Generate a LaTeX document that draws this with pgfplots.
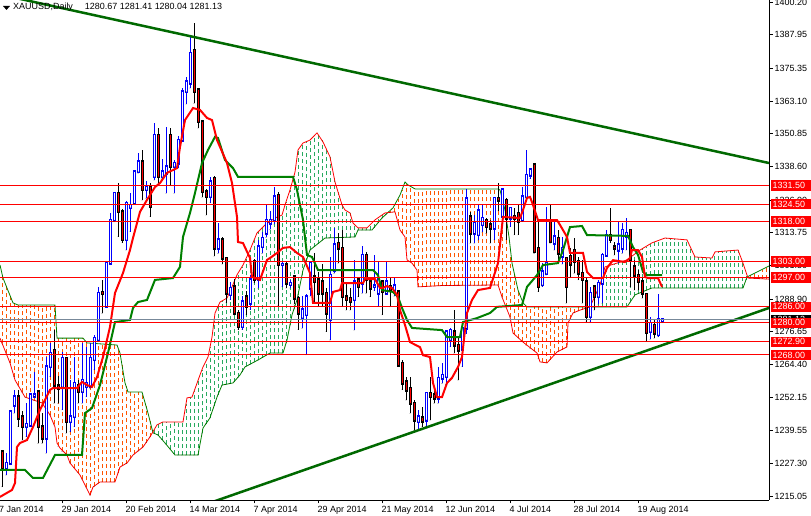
\documentclass[border=0pt]{standalone}
\usepackage{pgfplots}
\pgfplotsset{compat=1.18}
\usepackage{pgfplotstable}
\usepackage{fontspec}
\setmainfont{Liberation Sans}
\definecolor{cloudO}{RGB}{255,85,0}
\definecolor{cloudG}{RGB}{40,170,95}
\definecolor{kij}{RGB}{0,128,0}
\definecolor{trend}{RGB}{0,105,0}
\definecolor{bidgray}{RGB}{119,136,153}
\setlength{\fboxsep}{2bp}
\newcommand{\lab}[2][red]{\colorbox{#1}{\makebox[36bp][l]{\textcolor{white}{#2}}}}
\pgfplotsset{
  candle/.style={only marks, mark=*, mark size=0.01pt, mark options={draw=none, fill=none},
    error bars/.cd, y dir=plus, y explicit, error mark=none, error bar style={#1}},
}

% Ichimoku cloud per bar: orange where span B is above span A, green where A is above B
\pgfplotstableread{
i lo hi
1 1272.4 1298.4
2 1268.7 1294.0
3 1265.0 1290.3
4 1259.9 1287.3
5 1256.7 1286.7
6 1254.1 1286.7
7 1252.1 1286.7
8 1251.6 1286.7
9 1251.0 1286.7
10 1250.5 1286.7
11 1250.0 1286.7
12 1247.8 1286.7
13 1245.5 1286.7
14 1242.0 1286.7
15 1233.7 1274.3
16 1231.9 1274.3
17 1230.9 1274.3
18 1227.5 1274.3
19 1225.7 1274.3
20 1223.9 1274.3
21 1221.5 1274.3
22 1218.5 1273.0
23 1215.5 1272.4
24 1218.8 1272.3
25 1219.9 1272.2
26 1220.4 1272.1
27 1220.4 1272.0
28 1220.4 1271.9
29 1220.4 1271.8
30 1223.8 1270.7
31 1226.4 1264.2
32 1227.3 1256.4
33 1229.0 1254.1
34 1230.8 1254.1
35 1232.0 1254.1
36 1233.2 1254.1
37 1235.1 1248.8
38 1237.3 1243.2
98 1321.4 1322.1
99 1321.6 1323.8
100 1317.5 1326.5
101 1313.8 1329.9
102 1307.9 1332.1
103 1302.9 1331.3
104 1301.4 1330.4
105 1293.5 1330.2
106 1293.6 1330.2
107 1293.7 1330.2
108 1293.8 1330.2
109 1293.8 1330.2
110 1293.9 1330.2
111 1294.0 1330.2
112 1294.0 1330.2
113 1294.1 1330.2
114 1294.1 1330.2
115 1294.1 1330.2
116 1294.1 1330.2
117 1294.1 1330.2
118 1294.1 1330.2
119 1294.1 1330.2
120 1294.1 1330.2
121 1294.1 1330.2
122 1294.1 1330.2
123 1294.2 1330.2
124 1294.2 1330.2
125 1294.2 1330.2
126 1289.7 1326.8
127 1286.0 1314.7
128 1282.2 1305.7
129 1275.9 1299.0
130 1274.5 1292.3
131 1273.1 1288.5
132 1271.6 1286.4
133 1270.5 1286.0
134 1269.6 1286.0
135 1266.5 1286.0
136 1265.3 1286.0
137 1265.1 1286.0
138 1266.2 1286.0
139 1267.9 1286.0
140 1269.3 1286.0
141 1270.0 1286.0
142 1270.8 1286.0
143 1281.5 1286.0
144 1283.8 1286.0
145 1284.5 1286.0
146 1285.0 1286.0
147 1285.5 1286.0
188 1296.8 1297.8
189 1296.7 1298.5
190 1296.6 1299.2
191 1296.5 1300.0
192 1296.4 1300.7
}\cloudorange

\pgfplotstableread{
i lo hi
39 1238.6 1239.9
40 1238.0 1242.0
41 1236.3 1242.7
42 1234.6 1242.9
43 1232.8 1242.9
44 1231.0 1242.9
45 1230.5 1242.9
46 1230.5 1242.9
47 1230.5 1249.7
48 1230.5 1252.1
49 1230.5 1254.3
50 1230.5 1258.4
51 1238.6 1262.5
52 1242.2 1265.7
53 1244.4 1271.0
54 1248.9 1280.7
55 1253.1 1286.1
56 1256.7 1288.2
57 1257.0 1289.1
58 1257.3 1291.8
59 1257.9 1295.3
60 1259.6 1298.6
61 1261.7 1301.1
62 1263.7 1304.1
63 1264.5 1307.3
64 1265.3 1311.0
65 1266.1 1314.1
66 1267.0 1315.6
67 1267.8 1317.0
68 1268.7 1318.0
69 1268.7 1319.0
70 1268.7 1319.8
71 1268.7 1320.4
72 1272.4 1325.3
73 1279.2 1329.8
74 1285.2 1335.2
75 1290.5 1344.8
76 1297.9 1346.9
77 1303.0 1347.9
78 1307.3 1348.5
79 1308.5 1350.0
80 1309.7 1350.6
81 1310.9 1348.4
82 1311.8 1345.4
83 1311.9 1342.2
84 1311.9 1334.7
85 1312.0 1329.1
86 1312.0 1324.2
87 1312.1 1322.1
88 1312.1 1321.2
89 1312.2 1317.0
90 1314.8 1315.6
91 1314.8 1315.6
92 1314.8 1315.6
93 1314.8 1316.7
94 1315.7 1318.2
95 1317.5 1319.4
96 1319.3 1320.4
97 1320.7 1321.2
149 1286.0 1289.3
150 1286.0 1292.6
151 1286.0 1296.9
152 1286.0 1301.1
153 1286.0 1301.6
154 1286.0 1302.1
155 1286.0 1302.6
156 1286.0 1303.0
157 1286.0 1303.5
158 1287.7 1304.5
159 1289.9 1305.6
160 1291.0 1306.7
161 1291.6 1307.7
162 1292.2 1308.6
163 1292.8 1309.5
164 1293.1 1310.3
165 1293.1 1310.8
166 1293.1 1311.4
167 1293.1 1311.8
168 1293.1 1311.6
169 1293.1 1311.5
170 1293.1 1311.4
171 1293.1 1311.3
172 1293.1 1311.1
173 1293.1 1308.7
174 1293.1 1305.5
175 1293.1 1304.6
176 1293.1 1304.5
177 1293.1 1304.4
178 1293.1 1304.4
179 1293.1 1305.8
180 1293.1 1306.7
181 1293.1 1306.8
182 1293.1 1306.9
183 1293.1 1307.0
184 1293.1 1307.2
185 1293.1 1307.3
186 1293.1 1303.4
187 1296.2 1298.6
}\cloudgreen

\pgfplotstableread{
i o h l c
2 1225.5 1231.1 1223.0 1227.4
3 1227.4 1247.5 1226.8 1246.7
4 1249.2 1254.8 1246.1 1252.3
7 1241.1 1249.9 1237.4 1242.1
8 1241.7 1253.6 1241.1 1253.0
9 1252.5 1261.7 1252.3 1253.0
12 1236.7 1267.3 1231.1 1263.6
13 1263.6 1272.3 1259.9 1268.6
16 1256.1 1269.2 1247.4 1266.7
18 1243.0 1258.6 1239.2 1244.9
19 1244.9 1267.3 1241.1 1257.4
21 1254.2 1272.3 1249.9 1258.6
22 1256.1 1271.0 1252.3 1257.4
23 1256.1 1272.3 1255.5 1266.7
24 1266.1 1275.5 1262.4 1274.2
25 1273.6 1293.6 1273.0 1291.1
27 1286.1 1303.0 1286.1 1302.3
28 1302.3 1321.0 1302.3 1318.5
29 1318.5 1329.2 1317.9 1328.5
32 1311.1 1325.5 1307.3 1324.8
33 1323.2 1328.5 1314.2 1324.0
34 1324.8 1337.3 1324.8 1336.7
35 1336.7 1343.5 1336.0 1340.4
37 1329.8 1333.0 1326.7 1331.0
39 1334.8 1354.8 1333.5 1350.4
41 1334.8 1341.5 1334.0 1336.7
42 1336.0 1353.5 1328.5 1338.5
44 1338.5 1341.0 1328.5 1339.8
45 1339.8 1350.0 1338.0 1348.5
46 1348.5 1368.0 1348.0 1366.6
47 1366.6 1372.0 1362.0 1370.4
48 1369.8 1387.2 1368.0 1381.0
53 1327.3 1334.8 1325.0 1332.9
55 1307.9 1317.3 1306.0 1311.1
58 1290.5 1295.4 1288.6 1292.9
61 1278.6 1290.0 1277.5 1288.0
63 1287.3 1298.0 1285.0 1296.1
65 1296.1 1311.0 1293.0 1308.6
66 1308.6 1314.0 1306.0 1311.7
67 1313.6 1324.2 1312.0 1318.5
68 1317.3 1322.0 1315.0 1318.5
69 1318.5 1331.0 1317.0 1327.3
71 1301.7 1303.0 1293.6 1302.0
73 1294.2 1296.0 1293.0 1294.8
76 1282.0 1290.0 1278.0 1285.0
77 1283.0 1291.0 1268.0 1289.8
78 1293.0 1303.0 1290.0 1302.3
83 1281.1 1304.8 1273.6 1297.9
84 1299.8 1315.4 1298.6 1309.2
89 1288.6 1303.5 1277.3 1295.4
91 1294.8 1308.8 1291.1 1305.4
94 1293.5 1305.4 1292.0 1294.0
95 1291.1 1302.9 1286.1 1296.1
97 1291.1 1302.9 1291.0 1295.4
99 1292.3 1297.0 1290.0 1294.0
105 1243.0 1247.4 1239.8 1244.9
107 1243.6 1254.2 1241.1 1253.6
110 1251.7 1263.6 1249.9 1259.2
111 1259.2 1264.8 1257.3 1260.4
112 1259.8 1277.3 1257.0 1276.7
113 1273.6 1278.0 1271.0 1277.3
116 1269.9 1278.6 1263.6 1277.9
117 1277.9 1330.0 1276.0 1326.5
119 1313.5 1320.4 1309.8 1317.3
120 1313.0 1324.2 1311.0 1322.0
121 1316.7 1324.0 1314.0 1319.2
124 1315.4 1327.3 1311.1 1326.7
126 1319.8 1330.4 1317.3 1329.8
128 1319.2 1323.5 1316.0 1322.9
131 1318.5 1331.0 1318.0 1327.3
132 1327.3 1344.8 1326.7 1335.4
133 1335.4 1338.0 1334.0 1337.3
136 1294.2 1302.3 1293.6 1299.2
137 1298.5 1323.5 1297.9 1302.3
139 1309.8 1318.5 1307.3 1312.3
141 1305.0 1312.0 1302.0 1308.0
148 1282.3 1293.6 1280.4 1291.1
150 1289.8 1296.0 1287.0 1294.8
151 1294.8 1306.0 1287.3 1305.4
152 1305.4 1314.8 1304.8 1312.9
155 1307.3 1317.9 1302.3 1309.2
156 1307.9 1317.3 1306.0 1314.8
157 1312.3 1319.2 1307.3 1313.5
163 1276.7 1282.3 1273.8 1279.8
165 1275.5 1290.8 1274.8 1281.3
166 1280.67 1281.41 1280.04 1281.13
}\bull

\pgfplotstableread{
i o h l c
1 1231.8 1232.4 1218.6 1225.5
5 1252.3 1254.8 1241.1 1244.2
6 1244.9 1247.0 1236.1 1241.1
10 1254.2 1254.8 1234.9 1241.1
11 1241.1 1246.1 1234.9 1236.7
14 1269.8 1277.3 1249.9 1256.7
15 1256.5 1260.0 1249.9 1255.5
17 1266.7 1267.0 1238.6 1243.0
20 1256.7 1258.6 1249.9 1254.2
26 1291.4 1296.1 1283.6 1290.9
30 1328.5 1332.3 1312.3 1321.7
31 1321.7 1322.5 1310.0 1311.1
36 1340.4 1344.8 1326.0 1329.8
38 1331.0 1332.5 1319.8 1323.5
40 1350.4 1352.9 1332.0 1334.8
43 1350.4 1352.9 1331.5 1338.5
49 1382.2 1392.2 1362.3 1366.6
50 1367.3 1367.5 1353.0 1355.4
51 1355.4 1356.0 1327.0 1329.2
52 1329.2 1330.0 1320.4 1327.3
54 1334.2 1335.0 1305.0 1307.9
56 1311.1 1312.0 1302.0 1304.2
57 1304.2 1304.5 1287.5 1291.1
59 1293.6 1296.5 1283.0 1283.6
60 1283.6 1285.0 1277.5 1278.6
62 1289.8 1292.0 1283.0 1286.1
64 1303.0 1304.0 1295.0 1296.1
70 1327.9 1329.0 1286.5 1301.7
72 1301.7 1303.0 1293.0 1294.8
74 1297.3 1298.0 1287.0 1289.2
75 1289.2 1290.0 1277.5 1283.6
79 1297.3 1306.0 1288.0 1295.4
80 1296.1 1299.0 1286.0 1291.1
81 1295.4 1302.0 1286.0 1291.1
82 1291.1 1293.0 1276.7 1283.6
85 1309.8 1313.5 1302.3 1307.9
86 1307.9 1314.8 1286.1 1289.8
87 1289.8 1294.8 1284.8 1288.6
88 1289.2 1293.0 1284.8 1288.0
90 1296.1 1297.3 1289.8 1293.6
92 1305.4 1306.7 1291.1 1296.1
93 1295.4 1297.3 1289.8 1292.9
96 1295.4 1296.0 1283.0 1291.7
98 1293.6 1296.7 1286.0 1292.3
100 1291.7 1292.3 1263.6 1264.2
101 1264.8 1266.0 1255.0 1257.3
102 1258.0 1259.8 1251.1 1254.8
103 1255.5 1259.8 1246.1 1249.9
104 1249.9 1251.1 1239.8 1243.6
106 1244.5 1248.6 1241.1 1243.2
108 1253.6 1259.8 1243.6 1252.3
109 1253.0 1255.5 1249.9 1251.7
114 1276.7 1284.8 1268.6 1271.7
115 1271.7 1274.8 1258.6 1269.8
118 1319.8 1321.7 1309.8 1313.5
122 1318.5 1319.2 1313.5 1316.0
123 1316.7 1318.5 1309.8 1315.4
125 1326.7 1332.3 1322.0 1326.0
127 1326.0 1326.7 1311.1 1319.2
129 1320.0 1323.0 1313.0 1319.0
130 1321.0 1324.2 1313.0 1318.0
134 1339.2 1339.8 1306.0 1306.7
135 1307.9 1318.5 1291.7 1293.6
138 1318.5 1324.2 1309.8 1310.4
140 1311.7 1314.8 1302.9 1306.1
142 1304.2 1304.8 1287.3 1293.6
143 1305.0 1308.0 1297.0 1302.0
144 1307.3 1311.7 1298.6 1302.9
145 1302.9 1304.8 1296.1 1298.6
146 1298.6 1303.5 1287.3 1296.1
147 1295.4 1297.3 1280.4 1282.3
149 1293.6 1294.2 1284.8 1289.8
153 1312.9 1322.9 1310.0 1311.1
154 1308.6 1310.4 1305.4 1308.0
158 1314.8 1315.0 1293.6 1303.6
159 1301.1 1303.6 1292.3 1297.9
160 1297.9 1299.8 1292.3 1295.4
161 1295.4 1296.7 1289.2 1291.1
162 1290.8 1291.0 1273.0 1276.3
164 1279.2 1281.1 1274.2 1276.1
}\bear

\begin{document}
\begin{tikzpicture}[x=1bp,y=1bp]
\useasboundingbox (0,0) rectangle (811,516);
\fill[white] (0,0) rectangle (811,516);
\begin{axis}[
  at={(0bp,16bp)}, anchor=south west,
  scale only axis, width=769bp, height=500bp,
  xmin=0.5, xmax=192.75, ymin=1213.64, ymax=1400.99,
  axis x line*=bottom, axis y line*=right,
  axis line style={black, line width=0.8bp, -},
  every outer x axis line/.append style={-},
  every outer y axis line/.append style={-},
  tick align=outside, major tick length=3.5bp,
  tick style={black, line width=0.8bp},
  font=\fontsize{9}{10}\selectfont,
  xtick={16,32,...,160},
  xticklabels={29 Jan 2014,20 Feb 2014,14 Mar 2014,7 Apr 2014,29 Apr 2014,21 May 2014,12 Jun 2014,4 Jul 2014,28 Jul 2014,19 Aug 2014},
  xticklabel style={anchor=north west, inner sep=0pt, xshift=-0.5bp, yshift=-2.5bp},
  ytick={1215.05,1227.30,1239.55,1252.15,1264.40,1276.65,1288.90,1301.50,1313.75,1326.00,1338.60,1350.85,1363.10,1375.35,1387.95,1400.20},
  yticklabels={1215.05,1227.30,1239.55,1252.15,1264.40,1276.65,1288.90,1301.50,1313.75,1326.00,1338.60,1350.85,1363.10,1375.35,1387.95,1400.20},
  yticklabel style={anchor=west, inner sep=0pt, xshift=2bp},
  extra y ticks={1281.13,1331.50,1324.50,1318.00,1303.00,1297.00,1286.00,1280.00,1272.90,1268.00},
  extra y tick labels={\lab[black]{1281.13},\lab{1331.50},\lab{1324.50},\lab{1318.00},\lab{1303.00},\lab{1297.00},\lab{1286.00},\lab{1280.00},\lab{1272.90},\lab{1268.00}},
  extra y tick style={major tick length=0pt, yticklabel style={xshift=-0.5bp}},
]
% cloud hatching: one dashed vertical stroke per bar
\addplot[candle={cloudO, line width=1bp, dash pattern=on 4bp off 3bp}] table[x=i, y=lo, y error plus expr=\thisrow{hi}-\thisrow{lo}] {\cloudorange};
\addplot[candle={cloudG, line width=1bp, dash pattern=on 4bp off 3bp}] table[x=i, y=lo, y error plus expr=\thisrow{hi}-\thisrow{lo}] {\cloudgreen};

% Senkou span B (green) and A (red)
\addplot[kij, line width=0.8bp] coordinates {
(0.5,1301.7)(1.25,1296.8)(3.75,1287.5)(5,1286.7)(14.25,1286.7)(14.75,1274.3)(21.25,1274.3)(22.25,1272.5)(29.75,1271.7)(30.5,1268.7)(31.75,1257.5)(32.5,1254.1)(36,1254.1)(37.5,1246.2)(38.75,1238.8)(40,1238.0)(41.75,1235.0)(44.25,1230.5)(50,1230.5)(51.25,1240.6)(53,1244.4)(54.75,1252.2)(56,1256.7)(58.75,1257.5)(60.5,1260.5)(61.75,1263.5)(65,1266.1)(68,1268.7)(71.25,1268.7)(72.25,1273.6)(73.5,1283.0)(74.75,1288.6)(76.25,1299.8)(78,1307.3)(81.75,1311.8)(89.25,1312.2)(90,1314.8)(93.5,1314.8)(96,1319.3)(98.75,1323.1)(100.5,1327.9)(101.75,1332.8)(102.5,1331.7)(104.25,1330.2)(125,1330.2)(125.5,1329.8)(126.75,1322.3)(127.75,1312.2)(128.5,1302.4)(130,1292.3)(131.25,1287.5)(132.25,1286.0)(157.25,1286.0)(159.25,1290.5)(163.5,1293.1)(186.25,1293.1)(187.25,1297.2)(192.75,1301.3)};
\addplot[red, line width=0.8bp] coordinates {
(0.5,1274.3)(3,1265.0)(4.25,1258.6)(6.75,1252.2)(11,1250.0)(13,1245.5)(14.25,1241.0)(14.75,1235.0)(15.5,1233.1)(17.25,1230.5)(18,1227.5)(20.5,1223.0)(21.75,1219.3)(23,1215.5)(23.75,1218.5)(25.5,1220.4)(29.25,1220.4)(30.5,1226.0)(32.25,1227.5)(33.75,1230.5)(36.25,1233.5)(38,1237.3)(39.75,1241.8)(41.25,1242.9)(46.25,1242.9)(47.25,1251.9)(48.5,1252.2)(50.5,1260.5)(51.25,1263.5)(52.5,1267.2)(53.5,1274.7)(54.25,1283.7)(55.5,1287.8)(57.25,1289.3)(58.5,1293.5)(59.75,1298.0)(61.25,1301.7)(63,1307.3)(64.75,1313.7)(66.75,1316.7)(69.25,1319.3)(71,1320.4)(71.75,1324.2)(73,1329.8)(74.25,1336.5)(75,1344.8)(76.25,1347.4)(78,1348.5)(79.75,1351.2)(81.25,1347.8)(83,1342.2)(84.25,1332.8)(85,1329.1)(86,1324.2)(86.75,1322.3)(88,1321.2)(88.75,1317.4)(90,1315.6)(92.25,1315.6)(94.25,1318.6)(96.75,1321.2)(99.25,1321.6)(100.5,1314.8)(101.75,1312.2)(102.25,1303.6)(103.5,1302.4)(104.75,1299.8)(105,1293.5)(111,1294.0)(125,1294.2)(126,1289.7)(128,1282.2)(128.75,1276.2)(131.25,1272.8)(134.75,1268.7)(135.5,1265.4)(137.25,1265.0)(139.75,1269.1)(142.25,1271.0)(142.5,1280.0)(143.75,1283.7)(145.5,1284.8)(148,1286.0)(150.5,1294.2)(151.75,1301.0)(157.25,1303.6)(160.5,1307.3)(163.5,1310.0)(166.75,1311.8)(172.25,1311.1)(174.25,1304.7)(178.5,1304.3)(179.25,1306.6)(185,1307.3)(186.25,1302.4)(187.5,1296.8)(192.75,1296.4)};

% candles: bull
\addplot[candle={blue, line width=1bp}] table[x=i, y=l, y error plus expr=\thisrow{h}-\thisrow{l}] {\bull};
\addplot[candle={blue, line width=3bp, line cap=rect}] table[x=i, y=o, y error plus expr=\thisrow{c}-\thisrow{o}] {\bull};
\addplot[candle={white, line width=1bp}] table[x=i, y=o, y error plus expr=\thisrow{c}-\thisrow{o}] {\bull};
% candles: bear
\addplot[candle={black, line width=1bp}] table[x=i, y=l, y error plus expr=\thisrow{h}-\thisrow{l}] {\bear};
\addplot[candle={black, line width=3bp, line cap=rect}] table[x=i, y=c, y error plus expr=\thisrow{o}-\thisrow{c}] {\bear};
\addplot[candle={red, line width=1bp}] table[x=i, y=c, y error plus expr=\thisrow{o}-\thisrow{c}] {\bear};

% Kijun-sen
\addplot[kij, line width=2bp] coordinates {
(0.5,1224.9)(6.75,1224.9)(8.75,1221.9)(11.25,1221.9)(14.25,1230.5)(21,1230.5)(21.75,1246.2)(23.5,1248.1)(25.5,1256.7)(27.5,1268.7)(29.25,1280.3)(33,1281.1)(33.75,1285.6)(35,1287.8)(37.25,1288.6)(39.25,1296.1)(43.75,1296.8)(45.5,1301.0)(46.25,1312.2)(48,1321.2)(49.25,1328.7)(51,1339.9)(52.5,1344.8)(54.25,1349.7)(55,1349.3)(56.75,1341.0)(58.75,1338.0)(60,1334.7)(73.75,1334.7)(74.75,1329.8)(76.25,1318.6)(77.25,1305.4)(78.5,1304.7)(80,1299.8)(93.75,1299.8)(95,1297.9)(96,1292.3)(98.75,1291.6)(100,1289.7)(101,1285.6)(102.25,1281.1)(103.5,1278.1)(111,1277.3)(112.25,1274.7)(115.5,1274.7)(116.25,1280.3)(119.75,1281.8)(123,1283.7)(124.75,1286.0)(131,1286.7)(132.25,1293.5)(134.75,1297.9)(136.25,1301.7)(140,1302.4)(141.25,1307.3)(143,1315.9)(146,1316.3)(147.25,1312.9)(157.5,1312.6)(158.75,1308.4)(160,1305.5)(161.25,1299.1)(162.25,1297.9)(166,1297.9)};
% Tenkan-sen
\addplot[red, line width=2bp] coordinates {
(0.5,1214.8)(3.5,1217.4)(4.25,1220.0)(4.75,1233.5)(5.5,1235.0)(7.25,1236.1)(8.75,1241.0)(10.5,1247.4)(13,1254.9)(13.75,1255.6)(19.75,1255.6)(21,1257.9)(22.25,1256.7)(23.5,1256.0)(24.75,1259.7)(26.25,1267.2)(28,1278.5)(29.25,1291.2)(31.25,1298.7)(33,1307.3)(33.75,1311.8)(35.5,1321.6)(37.25,1326.1)(39.25,1330.9)(40.5,1332.4)(42.25,1336.2)(44.75,1338.0)(45.5,1345.9)(46.75,1356.0)(48.75,1360.5)(50.5,1359.8)(52.25,1356.8)(53.5,1356.0)(54.75,1348.5)(57.25,1339.9)(58.5,1332.4)(59.75,1319.7)(60,1310.3)(61.25,1309.9)(63,1304.3)(63.5,1297.2)(65.5,1296.1)(67.25,1303.6)(68,1304.3)(69.75,1306.2)(71.25,1308.1)(73,1308.4)(74.75,1306.2)(76.25,1304.7)(78,1298.7)(78.75,1287.5)(83,1287.5)(83.75,1291.6)(85.5,1292.3)(86,1294.9)(91.25,1294.9)(91.75,1296.4)(94.25,1296.4)(95.5,1293.1)(96.25,1293.1)(97.25,1293.8)(98.5,1293.1)(99.75,1290.5)(100.5,1284.8)(101.75,1279.2)(103,1272.8)(105.5,1270.9)(106.25,1267.9)(108,1267.2)(108.75,1257.5)(109.75,1252.2)(111,1252.2)(112.25,1257.5)(113.5,1259.4)(115,1263.5)(116,1267.2)(116.75,1277.3)(117.25,1283.7)(118.5,1288.6)(120,1292.3)(123,1293.1)(125,1302.4)(126.25,1319.7)(130.5,1319.3)(131.25,1322.3)(132.25,1326.8)(133,1327.2)(133.75,1324.2)(135,1318.5)(139.75,1318.5)(140.5,1316.7)(142.25,1312.2)(143,1306.2)(146.25,1306.2)(147.25,1299.1)(148.75,1296.8)(151.25,1296.8)(152.25,1300.6)(153.75,1303.5)(156.75,1302.8)(158,1304.3)(158.5,1307.3)(160,1307.3)(161,1304.7)(161.75,1297.2)(162.5,1296.8)(165,1296.8)(166,1293.5)};

% trend lines
\addplot[trend, line width=2.5bp] coordinates {(0.5,1403.04)(192.75,1339.9)};
\addplot[trend, line width=2.5bp] coordinates {(50,1211.0)(192.75,1285.6)};

% horizontal levels
\addplot[bidgray, line width=1bp] coordinates {(0.5,1281.13)(192.75,1281.13)};
\addplot[red, line width=1bp] coordinates {(0.5,1331.5)(192.75,1331.5)};
\addplot[red, line width=1bp] coordinates {(0.5,1324.5)(192.75,1324.5)};
\addplot[red, line width=1bp] coordinates {(0.5,1318.0)(192.75,1318.0)};
\addplot[red, line width=1bp] coordinates {(0.5,1303.0)(192.75,1303.0)};
\addplot[red, line width=1bp] coordinates {(0.5,1297.0)(192.75,1297.0)};
\addplot[red, line width=1bp] coordinates {(0.5,1286.0)(192.75,1286.0)};
\addplot[red, line width=1bp] coordinates {(0.5,1280.0)(192.75,1280.0)};
\addplot[red, line width=1bp] coordinates {(0.5,1272.9)(192.75,1272.9)};
\addplot[red, line width=1bp] coordinates {(0.5,1268.0)(192.75,1268.0)};
\end{axis}
\node[anchor=north west, inner sep=0pt, font=\fontsize{9}{10}\selectfont] at (-1,10) {7 Jan 2014};
\fill[black] (3,510) -- (10,510) -- (6.5,506) -- cycle;
\node[anchor=base west, inner sep=0pt, font=\fontsize{9}{10}\selectfont] at (13,506) {XAUUSD,Daily\hspace{12bp}1280.67 1281.41 1280.04 1281.13};
\end{tikzpicture}
\end{document}
